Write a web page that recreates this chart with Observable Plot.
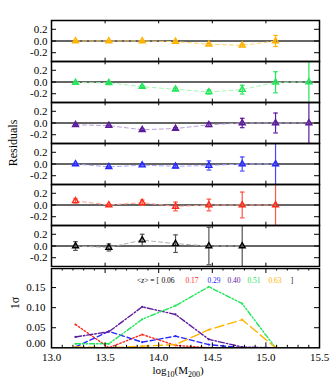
<!DOCTYPE html>
<html><head><meta charset="utf-8">
<script src="https://cdn.jsdelivr.net/npm/d3@7"></script>
<script src="https://cdn.jsdelivr.net/npm/@observablehq/plot@0.6"></script>
<style>
html,body{margin:0;padding:0;background:#fff;}
#chart{position:relative;width:336px;height:378px;overflow:hidden;background:#fff;}
#chart svg{position:absolute;left:0;}
</style></head><body><div id="chart"></div>
<script>
// ---- data ----
const massBins = [13.224, 13.535, 13.846, 14.157, 14.468, 14.779, 15.090, 15.401];
const zLabels = ["0.63", "0.51", "0.40", "0.29", "0.17", "0.06"]; // panels top to bottom
const xTicks = [13.0, 13.5, 14.0, 14.5, 15.0, 15.5];
const residTicks = [-0.2, 0.0, 0.2];
const sigmaTicks = [0.05, 0.10, 0.15];

// residuals and error bars per redshift
const res063 = [0, 0, 0, -0.01, -0.055, -0.075, 0, null];
const err063 = [0.01, 0.01, 0.01, 0.01, 0.015, 0.015, 0.095, null];
const res051 = [-0.01, -0.015, -0.08, -0.125, -0.17, -0.13, -0.005, 0];
const err051 = [0.01, 0.01, 0.015, 0.02, 0.035, 0.075, 0.18, 1];
const res040 = [-0.03, -0.045, -0.115, -0.095, -0.03, 0, 0, 0];
const err040 = [0.01, 0.01, 0.015, 0.015, 0.03, 0.08, 0.17, 1];
const res029 = [0, -0.05, -0.02, -0.04, -0.025, 0, 0, null];
const err029 = [0.01, 0.01, 0.015, 0.025, 0.078, 0.12, 1, null];
const res017 = [0.07, 0, 0.04, -0.025, 0, 0, 0, null];
const err017 = [0.035, 0.01, 0.045, 0.075, 0.1, 0.22, 1, null];
const res006 = [0, -0.025, 0.1, 0.04, 0, 0, null, null];
const err006 = [0.075, 0.06, 0.1, 0.15, 0.32, 1, null, null];

// 1 sigma scatter per redshift
const sig063 = [0.002, 0, 0.004, 0.008, 0.045, 0.07, 0, null];
const sig051 = [0.01, 0.01, 0.071, 0.105, 0.152, 0.11, 0, 0];
const sig040 = [0.027, 0.04, 0.102, 0.083, 0.021, 0.002, 0, 0];
const sig029 = [0.002, 0.041, 0.014, 0.029, 0.008, 0, 0, null];
const sig017 = [0.058, 0, 0.033, 0.006, 0, 0, 0, null];
const sig006 = [0, 0, 0, 0, 0, 0, null, null];

// ---- styles ----
const mainColors = ["#ffb300", "#22e65a", "#5c1a9c", "#2626ff", "#ff2a1a", "#000000"];
const errColors  = ["#ffb300", "#22e65a", "#5c1a9c", "#4646ff", "#ff5544", "#555555"];
const lightColors = ["#ffd36e", "#a6f5b8", "#b7a0d8", "#a8a8ff", "#ffa090", "#b0b0b0"];
const dashes = ["9,4", "5,2,1.5,2,1.5,2", "6,2,1.5,2", "5,3", "1.5,2", null];

const residSets = [[res063, err063], [res051, err051], [res040, err040], [res029, err029], [res017, err017], [res006, err006]];
const sigmaSets = [sig063, sig051, sig040, sig029, sig017, sig006];

const W = 336, ML = 51, MR = 17;
const topH = 268, topMT = 18;
const panelH = (topH - topMT) / 6;
const plotW = W - ML - MR;
const font = "'Liberation Serif', 'DejaVu Serif', serif";

const cap = {draw(ctx, size) { const r = Math.sqrt(size / Math.PI); ctx.moveTo(-r, 0); ctx.lineTo(r, 0); }};

// ---- residual panels ----
const topMarks = [Plot.ruleY([0], {stroke: "#333", strokeWidth: 1.5})];
zLabels.forEach((z, i) => {
  const [res, err] = residSets[i];
  const rows = massBins.map((m, j) => ({z, x: m, y: res[j], e: err[j]})).filter(d => d.y != null);
  topMarks.push(
    Plot.line(rows, {x: "x", y: "y", fy: "z", stroke: lightColors[i], strokeWidth: 1, strokeDasharray: "4,3", clip: true}),
    Plot.ruleX(rows, {x: "x", y1: d => d.y - d.e, y2: d => d.y + d.e, fy: "z", stroke: errColors[i], strokeWidth: 1.2, clip: true}),
    Plot.dot(rows, {x: "x", y: d => d.y - d.e, fy: "z", symbol: cap, r: 2.3, stroke: errColors[i], strokeWidth: 1.2, fill: "none", clip: true}),
    Plot.dot(rows, {x: "x", y: d => d.y + d.e, fy: "z", symbol: cap, r: 2.3, stroke: errColors[i], strokeWidth: 1.2, fill: "none", clip: true}),
    Plot.dot(rows, {x: "x", y: "y", fy: "z", symbol: "triangle", r: 2.2, stroke: mainColors[i], strokeWidth: 1.4, fill: "none", clip: true})
  );
});
topMarks.push(
  Plot.tickX(xTicks, {x: d => d, insetBottom: panelH - 4, stroke: "#000"}),
  Plot.tickX(xTicks, {x: d => d, insetTop: panelH - 4, stroke: "#000"}),
  Plot.tickY(residTicks, {y: d => d, insetRight: plotW - 5, stroke: "#000"}),
  Plot.tickY(residTicks, {y: d => d, insetLeft: plotW - 5, stroke: "#000"}),
  Plot.frame({stroke: "#000", strokeWidth: 1.5})
);

const topChart = Plot.plot({
  width: W, height: topH,
  marginLeft: ML, marginRight: MR, marginTop: topMT, marginBottom: 0,
  style: {fontFamily: font, fontSize: "11px", color: "#000", background: "transparent"},
  x: {domain: [13, 15.5], axis: null},
  y: {domain: [-0.35, 0.35], ticks: residTicks, tickSize: 0, tickPadding: 4, tickFormat: d => d.toFixed(1), label: null},
  fy: {domain: zLabels, padding: 0, axis: null, label: null},
  marks: topMarks
});
topChart.style.top = "0px";

// ---- bottom 1-sigma panel ----
const botH = 378 - topH, botMB = 30.7;
const botPlotH = botH - botMB;
const minorX = d3.range(130, 156).map(v => v / 10).filter(v => !xTicks.includes(v));
const botMarks = [];
const order = [5, 4, 3, 2, 1, 0];
order.forEach(i => {
  const rows = massBins.map((m, j) => ({x: m, y: sigmaSets[i][j]})).filter(d => d.y != null);
  botMarks.push(Plot.line(rows, {x: "x", y: "y", stroke: mainColors[i], strokeWidth: 1.4, strokeDasharray: dashes[i], clip: true}));
  if (i !== 5) botMarks.push(Plot.dot(rows, {x: "x", y: "y", r: 1.1, fill: mainColors[i], clip: true}));
});
botMarks.push(
  Plot.axisY(sigmaTicks, {tickSize: 0, tickPadding: 6, tickFormat: d => d.toFixed(2), label: null}),
  Plot.axisY([0], {tickSize: 0, tickPadding: 6, tickFormat: d => d.toFixed(2), label: null, dy: -4}),
  Plot.tickX(xTicks, {x: d => d, insetBottom: botPlotH - 5, stroke: "#000"}),
  Plot.tickX(xTicks, {x: d => d, insetTop: botPlotH - 5, stroke: "#000"}),
  Plot.tickX(minorX, {x: d => d, insetBottom: botPlotH - 2.5, stroke: "#000"}),
  Plot.tickX(minorX, {x: d => d, insetTop: botPlotH - 2.5, stroke: "#000"}),
  Plot.tickY(sigmaTicks, {y: d => d, insetRight: plotW - 5, stroke: "#000"}),
  Plot.tickY(sigmaTicks, {y: d => d, insetLeft: plotW - 5, stroke: "#000"}),
  Plot.frame({stroke: "#000", strokeWidth: 1.5})
);
const botChart = Plot.plot({
  width: W, height: botH,
  marginLeft: ML, marginRight: MR, marginTop: 0, marginBottom: botMB,
  style: {fontFamily: font, fontSize: "11px", color: "#000", background: "transparent"},
  x: {domain: [13, 15.5], ticks: xTicks, tickSize: 0, tickPadding: 5, tickFormat: d => d.toFixed(1), label: null},
  y: {domain: [0, 0.1975]},
  marks: botMarks
});
botChart.style.top = topH + "px";

const chart = document.getElementById("chart");
chart.appendChild(topChart);
chart.appendChild(botChart);

// ---- annotations ----
d3.select(topChart).append("text")
  .attr("transform", "translate(17,143) rotate(-90)")
  .attr("text-anchor", "middle")
  .attr("font-family", font).attr("font-size", 12).attr("fill", "#000")
  .text("Residuals");

d3.select(botChart).append("text")
  .attr("transform", "translate(19,35) rotate(-90)")
  .attr("text-anchor", "middle")
  .attr("font-family", font).attr("font-size", 12).attr("fill", "#000")
  .text("1σ");

const xl = d3.select(botChart).append("text")
  .attr("x", 178).attr("y", 106)
  .attr("text-anchor", "middle")
  .attr("font-family", font).attr("font-size", 11).attr("fill", "#000");
xl.append("tspan").text("log");
xl.append("tspan").attr("dy", 2.5).attr("font-size", 8).text("10");
xl.append("tspan").attr("dy", -2.5).text("(M");
xl.append("tspan").attr("dy", 2.5).attr("font-size", 8).text("200");
xl.append("tspan").attr("dy", -2.5).text(")");

const lg = d3.select(botChart).append("text")
  .attr("y", 15.3)
  .attr("font-family", font).attr("font-size", 7.5).attr("fill", "#000");
lg.append("tspan").attr("x", 148).text("<");
lg.append("tspan").attr("font-style", "italic").text("z");
lg.append("tspan").text("> = [");
const legX = [168, 192, 214, 234, 254, 275];
const legOrder = [5, 4, 3, 2, 1, 0];
legOrder.forEach((i, k) => {
  lg.append("tspan").attr("x", legX[k]).attr("fill", mainColors[i]).text(zLabels[i]);
});
lg.append("tspan").attr("x", 292).text("]");
</script></body></html>
